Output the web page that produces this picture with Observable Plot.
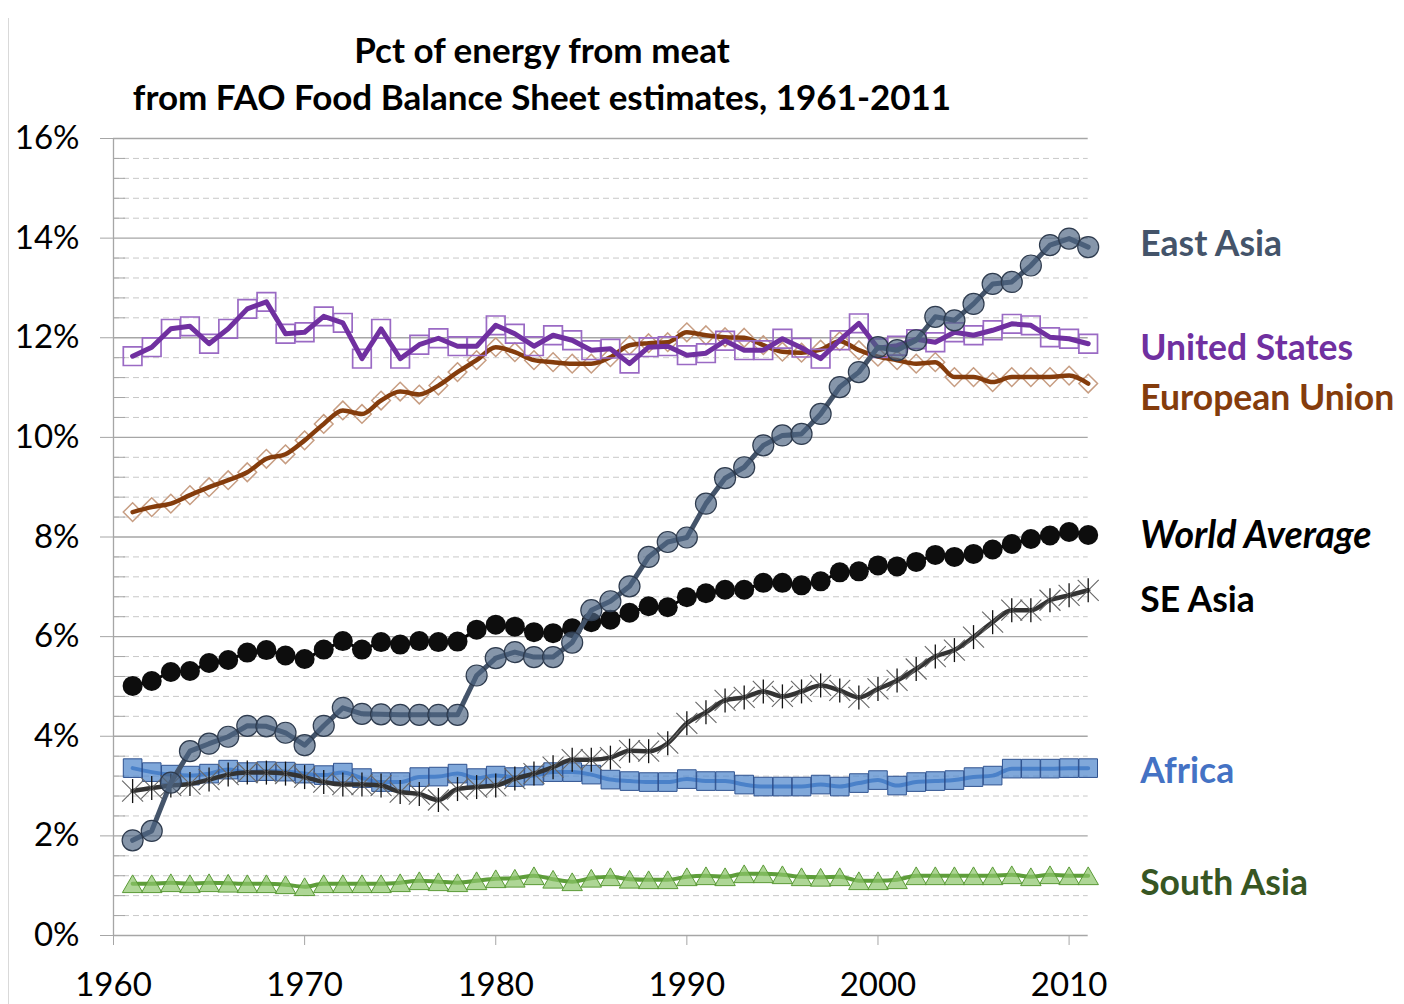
<!DOCTYPE html>
<html><head><meta charset="utf-8">
<script src="https://cdn.jsdelivr.net/npm/d3@7"></script>
<script src="https://cdn.jsdelivr.net/npm/@observablehq/plot@0.6"></script>
<style>
body{margin:0;background:#fff;font-family:Lato,"Open Sans",sans-serif;}
#wrap{position:relative;width:1404px;height:1004px;overflow:hidden;background:#fff}
#edge{position:absolute;left:8px;top:18px;bottom:0;width:1px;background:#d9d9d9;z-index:2}
#title{position:absolute;left:0;top:26px;width:1084px;text-align:center;font-weight:bold;font-size:35px;line-height:47px;color:#000}
#chart{position:absolute;left:0;top:120px}
</style></head>
<body><div id="wrap"><div id="edge"></div>
<div id="title">Pct of energy from meat<br>from FAO Food Balance Sheet estimates, 1961-2011</div>
<div id="chart"></div></div>
<script>
const years = d3.range(1961, 2012);
const eastAsia = [1.91,2.10,3.07,3.70,3.85,3.99,4.21,4.20,4.07,3.82,4.21,4.57,4.45,4.44,4.43,4.43,4.43,4.43,5.22,5.57,5.69,5.59,5.59,5.88,6.53,6.71,7.01,7.60,7.90,7.99,8.67,9.18,9.40,9.84,10.04,10.07,10.47,11.01,11.31,11.81,11.75,11.95,12.42,12.35,12.68,13.08,13.12,13.45,13.86,13.99,13.82];
const unitedStates = [11.63,11.81,12.18,12.23,11.88,12.18,12.58,12.72,12.08,12.11,12.43,12.30,11.58,12.18,11.58,11.86,11.99,11.83,11.83,12.25,12.08,11.83,12.05,11.95,11.75,11.78,11.48,11.81,11.83,11.65,11.69,11.94,11.75,11.75,11.98,11.80,11.58,11.95,12.29,11.79,11.84,11.97,11.91,12.11,12.05,12.15,12.28,12.25,12.01,11.98,11.88];
const europeanUnion = [8.50,8.60,8.67,8.84,9.00,9.14,9.30,9.57,9.66,9.94,10.27,10.54,10.47,10.74,10.92,10.86,11.04,11.31,11.55,11.81,11.71,11.55,11.51,11.48,11.48,11.61,11.85,11.89,11.91,12.11,12.05,12.01,12.00,11.85,11.72,11.70,11.76,11.93,11.75,11.62,11.55,11.48,11.51,11.21,11.21,11.11,11.21,11.21,11.21,11.24,11.08];
const worldAverage = [5.01,5.11,5.29,5.31,5.47,5.53,5.68,5.73,5.62,5.55,5.74,5.91,5.74,5.89,5.84,5.91,5.89,5.90,6.14,6.24,6.20,6.09,6.07,6.17,6.29,6.34,6.48,6.61,6.59,6.79,6.87,6.94,6.94,7.08,7.08,7.03,7.11,7.29,7.31,7.43,7.41,7.50,7.64,7.60,7.66,7.75,7.86,7.96,8.03,8.10,8.04];
const seAsia = [2.90,2.96,3.01,3.04,3.13,3.23,3.27,3.27,3.25,3.18,3.08,3.03,3.03,3.01,2.88,2.84,2.72,2.94,2.98,3.01,3.15,3.25,3.38,3.53,3.53,3.57,3.71,3.70,3.86,4.26,4.48,4.72,4.78,4.90,4.80,4.90,5.02,4.92,4.78,4.95,5.12,5.35,5.60,5.73,5.99,6.29,6.53,6.53,6.73,6.83,6.93];
const africa = [3.36,3.28,3.23,3.21,3.25,3.33,3.28,3.30,3.29,3.25,3.22,3.27,3.16,3.08,3.08,3.18,3.19,3.25,3.16,3.21,3.18,3.21,3.28,3.28,3.23,3.13,3.10,3.08,3.08,3.14,3.10,3.10,3.03,2.99,2.99,2.99,3.03,2.99,3.06,3.12,3.01,3.08,3.10,3.12,3.18,3.21,3.35,3.35,3.35,3.36,3.36];
const southAsia = [1.04,1.04,1.06,1.04,1.06,1.05,1.04,1.04,1.02,0.98,1.04,1.04,1.04,1.04,1.06,1.10,1.08,1.06,1.10,1.14,1.15,1.20,1.13,1.08,1.15,1.18,1.13,1.12,1.12,1.18,1.20,1.18,1.24,1.24,1.22,1.18,1.17,1.18,1.10,1.10,1.12,1.20,1.20,1.20,1.20,1.20,1.22,1.18,1.22,1.20,1.20];

const labelNames = ["East Asia","United States","European Union","World Average","SE Asia","Africa","South Asia"];
const labelY = [13.86,11.79,10.78,8.03,6.73,3.29,1.04];
const labelColors = ["#44546a","#7030a0","#843c0c","#000000","#000000","#4472c4","#375623"];

const yMajor = [0,2,4,6,8,10,12,14,16];
const yMinor = d3.range(0.4, 16, 0.4).filter(v => Math.abs(v/2 - Math.round(v/2)) > 0.01);
const xTicks = [1960,1970,1980,1990,2000,2010];

const rows = vals => years.map((year, i) => ({year, v: vals[i]}));

const star = {draw(ctx, size) {
  const h = Math.sqrt(size / Math.PI);
  ctx.moveTo(-h, -h); ctx.lineTo(h, h);
  ctx.moveTo(-h, h); ctx.lineTo(h, -h);
}};
const bar = {draw(ctx, size) {
  const h = Math.sqrt(size / Math.PI);
  ctx.moveTo(0, -h); ctx.lineTo(0, h);
}};

const labelMarks = labelNames.map((name, i) => Plot.text([labelY[i]], {
  x: () => 2011, y: d => d, text: () => name, dx: 52, textAnchor: "start",
  fill: labelColors[i], fontWeight: "bold",
  fontSize: name === "World Average" ? 37.5 : 35.5,
  fontStyle: name === "World Average" ? "italic" : "normal"
}));

const chart = Plot.plot({
  width: 1404, height: 884,
  marginTop: 18, marginBottom: 69, marginLeft: 113, marginRight: 316.3,
  x: {domain: [1960, 2011], label: null},
  y: {domain: [0, 16], label: null},
  style: {fontFamily: "Lato, 'Open Sans', sans-serif", background: "transparent", overflow: "visible", color: "#000"},
  marks: [
    Plot.ruleY(yMinor, {stroke: "#c8c8c8", strokeDasharray: "6,4", strokeWidth: 1}),
    Plot.ruleY(yMinor, {x1: 1960, x2: 1960, insetRight: -12, stroke: "#a6a6a6"}),
    Plot.ruleY(yMajor, {stroke: "#a6a6a6", strokeWidth: 1.3}),
    Plot.ruleX([1960], {stroke: "#a6a6a6", strokeWidth: 1.3}),
    Plot.axisY(yMajor, {tickSize: 13, tickPadding: 21, tickFormat: d => `${d}%`, fontSize: 33, stroke: "#a6a6a6", fill: "#000", label: null}),
    Plot.axisX(xTicks, {tickSize: 10, tickPadding: 27, tickFormat: d => String(d), fontSize: 33, stroke: "#a6a6a6", fill: "#000", label: null}),

    // South Asia
    Plot.line(rows(southAsia), {x: "year", y: "v", stroke: "#5e9e3a", strokeWidth: 4, curve: "monotone-x"}),
    Plot.dot(rows(southAsia), {x: "year", y: "v", symbol: "triangle", r: 7.6, dy: 3, fill: "#8cc56a", fillOpacity: 0.7, stroke: "#5a9a36", strokeWidth: 1}),
    // Africa
    Plot.line(rows(africa), {x: "year", y: "v", stroke: "#3f72c0", strokeWidth: 4, curve: "monotone-x"}),
    Plot.dot(rows(africa), {x: "year", y: "v", symbol: "square", r: 10.5, fill: "#4f86cc", fillOpacity: 0.72, stroke: "#2f528f", strokeWidth: 1}),
    // SE Asia
    Plot.line(rows(seAsia), {x: "year", y: "v", stroke: "#333333", strokeWidth: 4.5, curve: "monotone-x"}),
    Plot.dot(rows(seAsia), {x: "year", y: "v", symbol: star, r: 10.5, fill: "none", stroke: "#666", strokeWidth: 1.1}),
    Plot.dot(rows(seAsia), {x: "year", y: "v", symbol: bar, r: 12, fill: "none", stroke: "#111", strokeWidth: 1.3}),
    // World
    Plot.line(rows(worldAverage), {x: "year", y: "v", stroke: "#000", strokeWidth: 3}),
    Plot.dot(rows(worldAverage), {x: "year", y: "v", r: 10, fill: "#0d0d0d", stroke: "none"}),
    // EU
    Plot.dot(rows(europeanUnion), {x: "year", y: "v", symbol: "diamond2", r: 8.4, fill: "none", stroke: "#c79d82", strokeWidth: 1.5}),
    Plot.line(rows(europeanUnion), {x: "year", y: "v", stroke: "#843c0c", strokeWidth: 4.5, curve: "monotone-x"}),
    // US
    Plot.dot(rows(unitedStates), {x: "year", y: "v", symbol: "square", r: 10.5, fill: "none", stroke: "#9a6ac4", strokeWidth: 1.7}),
    Plot.line(rows(unitedStates), {x: "year", y: "v", stroke: "#7030a0", strokeWidth: 5}),
    // East Asia
    Plot.line(rows(eastAsia), {x: "year", y: "v", stroke: "#44546a", strokeWidth: 5}),
    Plot.dot(rows(eastAsia), {x: "year", y: "v", r: 10.5, fill: "#4d6482", fillOpacity: 0.68, stroke: "#2e3b4e", strokeWidth: 1.2}),

    ...labelMarks
  ]
});
document.getElementById("chart").append(chart);
</script>
</body></html>
